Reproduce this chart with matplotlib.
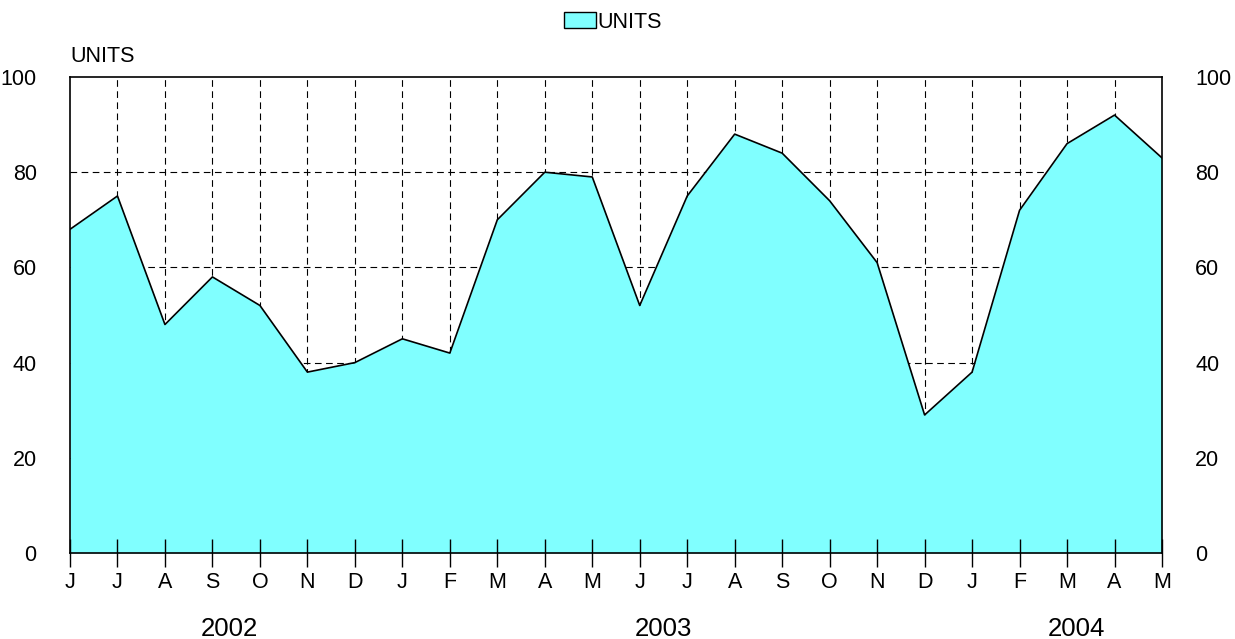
import matplotlib.pyplot as plt

plt.rcParams['font.family'] = ['Liberation Sans', 'DejaVu Sans']

months = ['J', 'J', 'A', 'S', 'O', 'N', 'D', 'J', 'F', 'M', 'A', 'M',
          'J', 'J', 'A', 'S', 'O', 'N', 'D', 'J', 'F', 'M', 'A', 'M']
units = [68, 75, 48, 58, 52, 38, 40, 45, 42, 70, 80, 79,
         52, 75, 88, 84, 74, 61, 29, 38, 72, 86, 92, 83]
years = ['2002', '2003', '2004']
year_pos = [3.35, 12.5, 21.2]
yticks = [0, 20, 40, 60, 80, 100]

x = list(range(len(units)))

fig = plt.figure(figsize=(12.35, 6.39), dpi=100)
ax = fig.add_axes([70 / 1235, 86 / 639, 1092 / 1235, 476 / 639])

# dashed grid behind the area
for xi in x[1:-1]:
    ax.axvline(xi, color='black', lw=0.8, ls=(0, (6, 4)), zorder=1)
for yv in yticks[1:-1]:
    ax.axhline(yv, color='black', lw=0.8, ls=(0, (6, 4)), zorder=1)

ax.fill_between(x, units, 0, color='#80FFFF', zorder=2, label='UNITS',
                linewidth=0)
ax.plot(x, units, color='black', lw=1.2, zorder=3)

ax.set_xlim(0, len(units) - 1)
ax.set_ylim(0, 100)
ax.set_xticks(x)
ax.set_xticklabels(months, fontsize=15.5)
ax.tick_params(axis='x', direction='inout', length=19.5, width=1.0, pad=4,
               color='black')
ax.xaxis.set_zorder(3.5)  # ticks drawn over the fill
ax.set_yticks(yticks)
ax.set_yticklabels([str(v) for v in yticks], fontsize=15.5)
ax.tick_params(axis='y', length=0, pad=24, labelright=True, right=False)

for s in ax.spines.values():
    s.set_linewidth(1.2)
    s.set_zorder(4)

for yr, pos in zip(years, year_pos):
    ax.text(pos, -15.9, yr, ha='center', va='center', fontsize=18.5,
            transform=ax.transData, clip_on=False)

ax.text(0, 102, 'UNITS', ha='left', va='bottom', fontsize=15.5)

leg = fig.legend(handles=[plt.Rectangle((0, 0), 1, 1, facecolor='#80FFFF',
                                        edgecolor='black', lw=1)],
                 labels=['UNITS'], loc='center', bbox_to_anchor=(613 / 1235, 1 - 22 / 639),
                 frameon=False, fontsize=15.5, handlelength=1.5, handleheight=0.7,
                 handletextpad=0.05)

fig.savefig('out.png', dpi=100)
